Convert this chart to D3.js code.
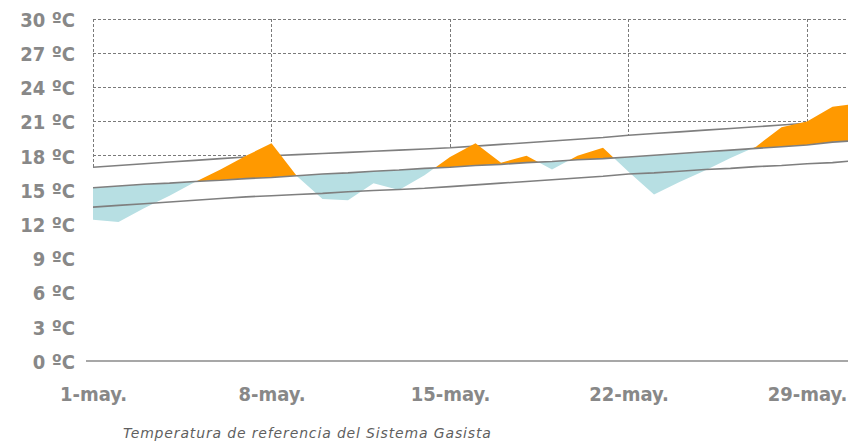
<!DOCTYPE html>
<html>
<head>
<meta charset="utf-8">
<script src="https://cdn.jsdelivr.net/npm/d3@7/dist/d3.min.js"></script>
<style>
  body { margin: 0; background: #fff; }
  .tick-label { font-family: "DejaVu Sans Condensed", "DejaVu Sans", sans-serif; font-weight: bold; fill: #888888; }
</style>
</head>
<body>
<div class="chart"></div>
<script>
// ------------------------- DATA
var days = [1,2,3,4,5,6,7,8,9,10,11,12,13,14,15,16,17,18,19,20,21,22,23,24,25,26,27,28,29,30,31];

var temperature = [12.4,12.2,13.4,14.5,15.7,16.8,18.0,19.1,16.2,14.2,14.1,15.6,15.0,16.3,17.9,19.1,
                   17.4,18.0,16.8,18.0,18.7,16.6,14.6,15.7,16.7,17.8,18.8,20.5,21.0,22.3,22.6];

var upperBand = [17.0,17.15,17.3,17.45,17.6,17.75,17.9,18.0,18.1,18.2,18.3,18.4,18.5,18.6,18.7,18.85,
                 19.0,19.15,19.3,19.45,19.6,19.8,19.95,20.1,20.25,20.4,20.55,20.7,20.85,21.0,21.1];

var middleBand = [15.2,15.35,15.5,15.6,15.75,15.85,16.0,16.1,16.25,16.4,16.5,16.65,16.75,16.9,17.0,17.15,
                  17.25,17.4,17.5,17.65,17.75,17.9,18.05,18.2,18.35,18.5,18.65,18.8,18.95,19.2,19.35];

var lowerBand = [13.5,13.65,13.8,13.95,14.1,14.25,14.4,14.5,14.6,14.7,14.85,14.95,15.05,15.15,15.3,15.45,
                 15.6,15.75,15.9,16.05,16.2,16.4,16.5,16.65,16.8,16.9,17.05,17.15,17.3,17.4,17.6];

var yTicks = [0,3,6,9,12,15,18,21,24,27,30];
var xTickDays = [1,8,15,22,29];
var xTickLabels = ["1-may.","8-may.","15-may.","22-may.","29-may."];
var legendText = "Temperatura de referencia del Sistema Gasista";

// ------------------------- SETUP
var width = 848, height = 442;

var svg = d3.select(".chart").append("svg")
  .attr("width", width)
  .attr("height", height);

var x = d3.scaleLinear().domain([1, 31]).range([93, 858]);
var y = d3.scaleLinear().domain([0, 30]).range([361, 19]);

var rows = days.map(function(d, i){
  return {day: d, t: temperature[i], up: upperBand[i], mid: middleBand[i], low: lowerBand[i]};
});

// ------------------------- GRIDLINES (dashed)
svg.append("g")
  .selectAll("line.h")
  .data(yTicks.filter(function(v){ return v > 0; }))
  .enter().append("line")
    .attr("x1", x(1)).attr("x2", width)
    .attr("y1", function(d){ return y(d); })
    .attr("y2", function(d){ return y(d); })
    .attr("stroke", "#7a7a7a")
    .attr("stroke-dasharray", "3,2")
    .attr("shape-rendering", "crispEdges");

svg.append("g")
  .selectAll("line.v")
  .data(xTickDays)
  .enter().append("line")
    .attr("x1", function(d){ return x(d); })
    .attr("x2", function(d){ return x(d); })
    .attr("y1", y(30)).attr("y2", y(0))
    .attr("stroke", "#7a7a7a")
    .attr("stroke-dasharray", "3,2")
    .attr("shape-rendering", "crispEdges");

// white area under the upper band hides the grid
svg.append("path")
  .attr("fill", "#fff")
  .attr("d", d3.area()
    .x(function(d){ return x(d.day); })
    .y0(y(0))
    .y1(function(d){ return y(d.up); })(rows));

// upper band line (sits below the fills)
var lineOf = function(key){
  return d3.line()
    .x(function(d){ return x(d.day); })
    .y(function(d){ return y(d[key]); });
};

svg.append("path")
  .attr("fill", "none")
  .attr("stroke", "#7f7f7f")
  .attr("stroke-width", 1.6)
  .attr("d", lineOf("up")(rows));

// ------------------------- FILLS ABOVE / BELOW THE MIDDLE LINE
var defs = svg.append("defs");

defs.append("clipPath").attr("id", "clip-above")
  .append("path")
  .attr("d", d3.area()
    .x(function(d){ return x(d.day); })
    .y0(0)
    .y1(function(d){ return y(d.mid); })(rows));

defs.append("clipPath").attr("id", "clip-below")
  .append("path")
  .attr("d", d3.area()
    .x(function(d){ return x(d.day); })
    .y0(height)
    .y1(function(d){ return y(d.mid); })(rows));

var diffArea = d3.area()
  .x(function(d){ return x(d.day); })
  .y0(function(d){ return y(d.mid); })
  .y1(function(d){ return y(d.t); });

svg.append("path")
  .attr("clip-path", "url(#clip-above)")
  .attr("fill", "#ff9900")
  .attr("d", diffArea(rows));

svg.append("path")
  .attr("clip-path", "url(#clip-below)")
  .attr("fill", "#b7dfe3")
  .attr("d", diffArea(rows));

// middle and lower band lines
svg.append("path")
  .attr("fill", "none")
  .attr("stroke", "#7f7f7f")
  .attr("stroke-width", 1.6)
  .attr("d", lineOf("mid")(rows));

svg.append("path")
  .attr("fill", "none")
  .attr("stroke", "#7f7f7f")
  .attr("stroke-width", 1.6)
  .attr("d", lineOf("low")(rows));

// ------------------------- AXES
var yAxis = d3.axisLeft(y)
  .tickValues(yTicks)
  .tickSize(0)
  .tickPadding(18)
  .tickFormat(function(d){ return d + " \u00baC"; });

var gy = svg.append("g")
  .attr("transform", "translate(" + x(1) + ",0)")
  .call(yAxis);
gy.select(".domain").remove();
gy.selectAll("text").attr("class", "tick-label").style("font-size", "20px").attr("dy", "0.36em");

var xAxis = d3.axisBottom(x)
  .tickValues(xTickDays)
  .tickSize(0)
  .tickPadding(26)
  .tickFormat(function(d, i){ return xTickLabels[i]; });

var gx = svg.append("g")
  .attr("transform", "translate(0," + y(0) + ")")
  .call(xAxis);
gx.select(".domain").remove();
gx.selectAll("text").attr("class", "tick-label").style("font-size", "20px").attr("dy", "0.71em");

// zero axis line
svg.append("line")
  .attr("x1", 86).attr("x2", width)
  .attr("y1", y(0)).attr("y2", y(0))
  .attr("stroke", "#8a8a8a")
  .attr("stroke-width", 1.5);

// ------------------------- LEGEND TEXT
svg.append("text")
  .attr("x", 123)
  .attr("y", 438)
  .attr("font-family", "DejaVu Sans, sans-serif")
  .attr("font-style", "italic")
  .attr("font-size", "14px")
  .attr("letter-spacing", "0.85px")
  .attr("fill", "#5f5f5f")
  .text(legendText);
</script>
</body>
</html>
